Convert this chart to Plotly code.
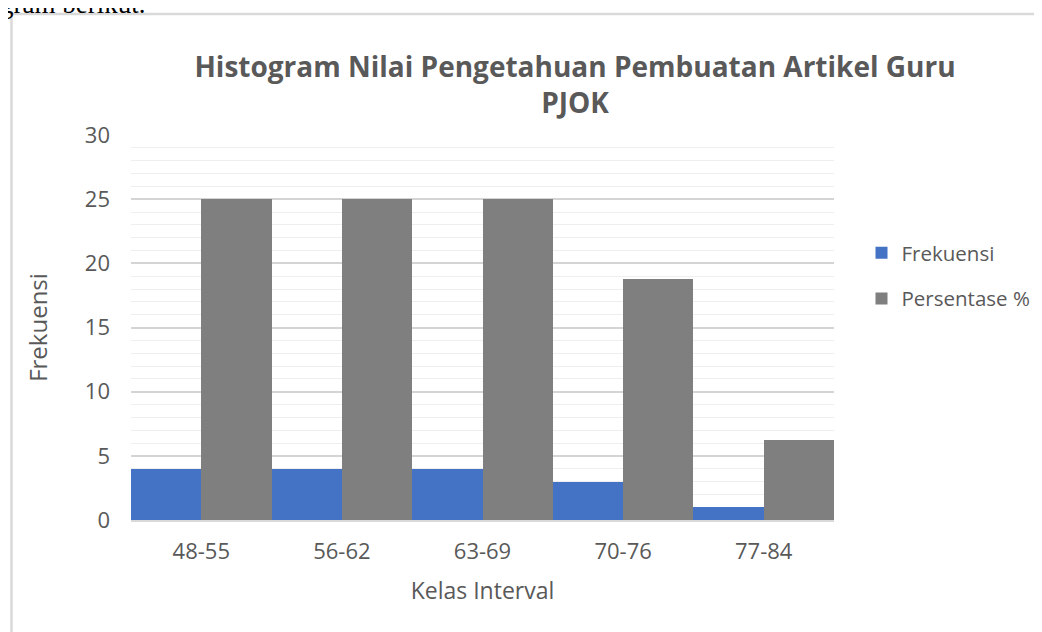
import plotly.graph_objects as go

categories = ["48-55", "56-62", "63-69", "70-76", "77-84"]
frekuensi = [4, 4, 4, 3, 1]
persentase = [25, 25, 25, 18.75, 6.25]
y_ticks = [0, 5, 10, 15, 20, 25, 30]

# page has an 8px body margin; work in page pixels and convert
OFF = 8
W, H = 1034, 624
L, R, T, B = 131 - OFF, 834 - OFF, 135 - OFF, 520 - OFF
pw, ph = R - L, B - T

def px(x):
    return (x - OFF - L) / pw

def py(y):
    return (B - (y - OFF)) / ph

FONT = "Open Sans"
GRAY = "#595959"

fig = go.Figure()
fig.add_trace(go.Bar(x=categories, y=frekuensi, name="Frekuensi", legendgroup="a",
                     marker=dict(color="#4472C4", line=dict(width=0))))
fig.add_trace(go.Bar(x=categories, y=persentase, name="Persentase %", legendgroup="b",
                     marker=dict(color="#7F7F7F", line=dict(width=0))))

fig.update_layout(
    width=W, height=H,
    margin=dict(l=L, r=W - R, t=T, b=H - B, autoexpand=False),
    paper_bgcolor="white", plot_bgcolor="white",
    barmode="group", bargap=0, bargroupgap=0,
    font=dict(family=FONT, color=GRAY, size=22),
    title=dict(text="<b>Histogram Nilai Pengetahuan Pembuatan Artikel Guru<br>PJOK</b>",
               x=px(575), xref="paper", xanchor="center",
               y=1 - (77 - OFF) / H, yref="container", yanchor="middle",
               font=dict(family=FONT, size=28, color=GRAY)),
    xaxis=dict(showline=True, linecolor="#d9d9d9", linewidth=2,
               ticks="", ticklabelstandoff=11, tickfont=dict(size=22, color=GRAY),
               title=dict(text="Kelas Interval", font=dict(size=23, color=GRAY), standoff=18)),
    yaxis=dict(range=[0, 30], tickvals=y_ticks, showgrid=True,
               gridcolor="#d4d4d4", gridwidth=1.5, zeroline=False,
               ticks="", ticklabelstandoff=20,
               tickfont=dict(size=22, color=GRAY),
               minor=dict(dtick=1, showgrid=True, gridcolor="#eeeeee", gridwidth=1),
               title=dict(text="Frekuensi", font=dict(size=24, color=GRAY), standoff=30)),
    legend=dict(x=px(861.5), xanchor="left", y=py(233), yanchor="top",
                font=dict(size=20.5, color=GRAY), itemwidth=30,
                tracegroupgap=16, bgcolor="rgba(0,0,0,0)"),
    shapes=[dict(type="rect", xref="paper", yref="paper",
                 x0=px(11.5), x1=px(1200), y0=py(700), y1=py(14),
                 line=dict(color="#d9d9d9", width=2.5), layer="below")],
    annotations=[dict(text="gram berikut.", xref="paper", yref="paper",
                      x=px(-2), y=py(4), xanchor="left", yanchor="middle",
                      showarrow=False,
                      font=dict(family="Liberation Serif", size=27, color="black"))],
)

fig.write_html("out.html")
